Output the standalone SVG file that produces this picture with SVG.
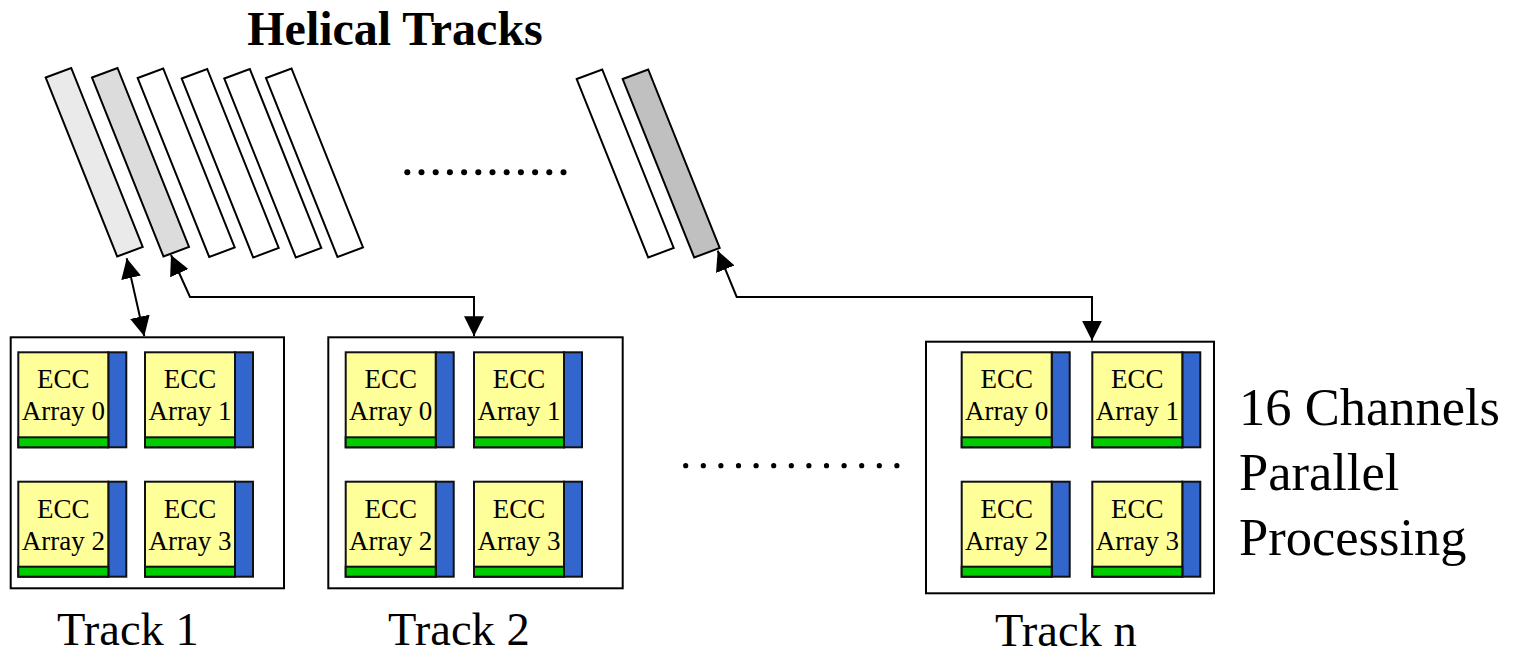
<svg xmlns="http://www.w3.org/2000/svg" width="1522" height="654" viewBox="0 0 1522 654">
  <style>
    .strip { stroke: #000; stroke-width: 2; stroke-linejoin: miter; }
    .box { fill: #fff; stroke: #000; stroke-width: 2; }
    .yel { fill: #ffff99; stroke: #111; stroke-width: 2; }
    .grn { fill: #00cc00; stroke: #111; stroke-width: 2; }
    .blu { fill: #3366cc; stroke: #111; stroke-width: 2; }
    .cell-t { font-family: "Liberation Serif", "Times New Roman", serif; font-size: 27px; fill: #000; text-anchor: middle; }
    .lbl { font-family: "Liberation Serif", "Times New Roman", serif; font-size: 46.5px; fill: #000; }
    .side { font-family: "Liberation Serif", "Times New Roman", serif; font-size: 52.5px; fill: #000; }
    .title { font-family: "Liberation Serif", "Times New Roman", serif; font-size: 48px; font-weight: bold; fill: #000; text-anchor: middle; }
    .conn { fill: none; stroke: #000; stroke-width: 2; }
  </style>
  <defs>
    <marker id="arrow" markerUnits="userSpaceOnUse" markerWidth="20" markerHeight="20" viewBox="0 0 20 20" refX="20" refY="10" orient="auto-start-reverse">
      <path d="M0,0 L20,10 L0,20 z" fill="#000"/>
    </marker>
  </defs>

  <rect width="1522" height="654" fill="#fff"/>

  <text class="title" x="395" y="45">Helical Tracks</text>

  <!-- helical track strips -->
  <g id="strips">
    <polygon class="strip" fill="#eaeaea" points="45.7,77.5 71.2,68 142.7,247 117.2,256.5"/>
    <polygon class="strip" fill="#dcdcdc" points="92,77.5 117.5,68 189,247 163.5,256.5"/>
    <polygon class="strip" fill="#fff" points="137.7,78 163.2,68.5 234.7,247.5 209.2,257"/>
    <polygon class="strip" fill="#fff" points="181.7,78.5 207.2,69 278.7,248 253.2,257.5"/>
    <polygon class="strip" fill="#fff" points="224.3,78.5 249.8,69 321.3,248 295.8,257.5"/>
    <polygon class="strip" fill="#fff" points="266,78 291.5,68.5 363,247.5 337.5,257"/>
    <polygon class="strip" fill="#fff" points="576.7,79 602.2,69.5 673.7,248 648.2,257.5"/>
    <polygon class="strip" fill="#c0c0c0" points="622.7,79 648.2,69.5 719.7,248 694.2,257.5"/>
  </g>

  <!-- ellipsis between strips -->
  <g id="dots-top" fill="#000">
    <circle cx="407.3" cy="172.3" r="3"/><circle cx="421.5" cy="172.3" r="3"/>
    <circle cx="435.7" cy="172.3" r="3"/><circle cx="449.9" cy="172.3" r="3"/>
    <circle cx="464.1" cy="172.3" r="3"/><circle cx="478.3" cy="172.3" r="3"/>
    <circle cx="492.5" cy="172.3" r="3"/><circle cx="506.7" cy="172.3" r="3"/>
    <circle cx="520.9" cy="172.3" r="3"/><circle cx="535.1" cy="172.3" r="3"/>
    <circle cx="549.3" cy="172.3" r="3"/><circle cx="563.5" cy="172.3" r="3"/>
  </g>

  <!-- ellipsis between track boxes -->
  <g id="dots-bottom" fill="#000">
    <circle cx="685.7" cy="465.7" r="2.6"/><circle cx="703.3" cy="465.7" r="2.6"/>
    <circle cx="720.9" cy="465.7" r="2.6"/><circle cx="738.5" cy="465.7" r="2.6"/>
    <circle cx="756.1" cy="465.7" r="2.6"/><circle cx="773.7" cy="465.7" r="2.6"/>
    <circle cx="791.3" cy="465.7" r="2.6"/><circle cx="808.9" cy="465.7" r="2.6"/>
    <circle cx="826.5" cy="465.7" r="2.6"/><circle cx="844.1" cy="465.7" r="2.6"/>
    <circle cx="861.7" cy="465.7" r="2.6"/><circle cx="879.3" cy="465.7" r="2.6"/>
    <circle cx="896.9" cy="465.7" r="2.6"/>
  </g>

  <!-- Track 1 -->
  <g id="track1">
    <rect class="box" x="10.7" y="337.3" width="273.3" height="251"/>
    <g transform="translate(18.3,352.3)">
      <rect class="blu" x="90" y="0" width="18" height="95"/>
      <rect class="yel" x="0" y="0" width="90" height="95"/>
      <rect class="grn" x="0" y="85" width="90" height="10"/>
      <text class="cell-t" x="45" y="36">ECC</text>
      <text class="cell-t" x="45" y="68">Array 0</text>
    </g>
    <g transform="translate(145,352.3)">
      <rect class="blu" x="90" y="0" width="18" height="95"/>
      <rect class="yel" x="0" y="0" width="90" height="95"/>
      <rect class="grn" x="0" y="85" width="90" height="10"/>
      <text class="cell-t" x="45" y="36">ECC</text>
      <text class="cell-t" x="45" y="68">Array 1</text>
    </g>
    <g transform="translate(18.3,481.7)">
      <rect class="blu" x="90" y="0" width="18" height="95"/>
      <rect class="yel" x="0" y="0" width="90" height="95"/>
      <rect class="grn" x="0" y="85" width="90" height="10"/>
      <text class="cell-t" x="45" y="36">ECC</text>
      <text class="cell-t" x="45" y="68">Array 2</text>
    </g>
    <g transform="translate(145,481.7)">
      <rect class="blu" x="90" y="0" width="18" height="95"/>
      <rect class="yel" x="0" y="0" width="90" height="95"/>
      <rect class="grn" x="0" y="85" width="90" height="10"/>
      <text class="cell-t" x="45" y="36">ECC</text>
      <text class="cell-t" x="45" y="68">Array 3</text>
    </g>
    <text class="lbl" x="57" y="645">Track 1</text>
  </g>

  <!-- Track 2 -->
  <g id="track2">
    <rect class="box" x="328.3" y="337.3" width="294.4" height="251"/>
    <g transform="translate(345.7,352.3)">
      <rect class="blu" x="90" y="0" width="18" height="95"/>
      <rect class="yel" x="0" y="0" width="90" height="95"/>
      <rect class="grn" x="0" y="85" width="90" height="10"/>
      <text class="cell-t" x="45" y="36">ECC</text>
      <text class="cell-t" x="45" y="68">Array 0</text>
    </g>
    <g transform="translate(474,352.3)">
      <rect class="blu" x="90" y="0" width="18" height="95"/>
      <rect class="yel" x="0" y="0" width="90" height="95"/>
      <rect class="grn" x="0" y="85" width="90" height="10"/>
      <text class="cell-t" x="45" y="36">ECC</text>
      <text class="cell-t" x="45" y="68">Array 1</text>
    </g>
    <g transform="translate(345.7,481.7)">
      <rect class="blu" x="90" y="0" width="18" height="95"/>
      <rect class="yel" x="0" y="0" width="90" height="95"/>
      <rect class="grn" x="0" y="85" width="90" height="10"/>
      <text class="cell-t" x="45" y="36">ECC</text>
      <text class="cell-t" x="45" y="68">Array 2</text>
    </g>
    <g transform="translate(474,481.7)">
      <rect class="blu" x="90" y="0" width="18" height="95"/>
      <rect class="yel" x="0" y="0" width="90" height="95"/>
      <rect class="grn" x="0" y="85" width="90" height="10"/>
      <text class="cell-t" x="45" y="36">ECC</text>
      <text class="cell-t" x="45" y="68">Array 3</text>
    </g>
    <text class="lbl" x="388" y="645">Track 2</text>
  </g>

  <!-- Track n -->
  <g id="trackn">
    <rect class="box" x="926" y="341.7" width="288" height="251.6"/>
    <g transform="translate(961.7,352.3)">
      <rect class="blu" x="90" y="0" width="18" height="95"/>
      <rect class="yel" x="0" y="0" width="90" height="95"/>
      <rect class="grn" x="0" y="85" width="90" height="10"/>
      <text class="cell-t" x="45" y="36">ECC</text>
      <text class="cell-t" x="45" y="68">Array 0</text>
    </g>
    <g transform="translate(1092.3,352.3)">
      <rect class="blu" x="90" y="0" width="18" height="95"/>
      <rect class="yel" x="0" y="0" width="90" height="95"/>
      <rect class="grn" x="0" y="85" width="90" height="10"/>
      <text class="cell-t" x="45" y="36">ECC</text>
      <text class="cell-t" x="45" y="68">Array 1</text>
    </g>
    <g transform="translate(961.7,481.7)">
      <rect class="blu" x="90" y="0" width="18" height="95"/>
      <rect class="yel" x="0" y="0" width="90" height="95"/>
      <rect class="grn" x="0" y="85" width="90" height="10"/>
      <text class="cell-t" x="45" y="36">ECC</text>
      <text class="cell-t" x="45" y="68">Array 2</text>
    </g>
    <g transform="translate(1092.3,481.7)">
      <rect class="blu" x="90" y="0" width="18" height="95"/>
      <rect class="yel" x="0" y="0" width="90" height="95"/>
      <rect class="grn" x="0" y="85" width="90" height="10"/>
      <text class="cell-t" x="45" y="36">ECC</text>
      <text class="cell-t" x="45" y="68">Array 3</text>
    </g>
    <text class="lbl" x="995" y="646">Track n</text>
  </g>

  <g id="caption">
    <text class="side" x="1239" y="425">16 Channels</text>
    <text class="side" x="1239" y="490">Parallel</text>
    <text class="side" x="1239" y="555">Processing</text>
  </g>

  <!-- connectors between strips and track boxes -->
  <g id="connectors">
    <path class="conn" d="M126.7,258.3 L144.3,336.3" marker-start="url(#arrow)" marker-end="url(#arrow)"/>
    <path class="conn" d="M171,255 L190,297 L474,297 L474,336.3" marker-start="url(#arrow)" marker-end="url(#arrow)"/>
    <path class="conn" d="M717.7,250.7 L736.7,297 L1092,297 L1092,340.7" marker-start="url(#arrow)" marker-end="url(#arrow)"/>
  </g>
</svg>
